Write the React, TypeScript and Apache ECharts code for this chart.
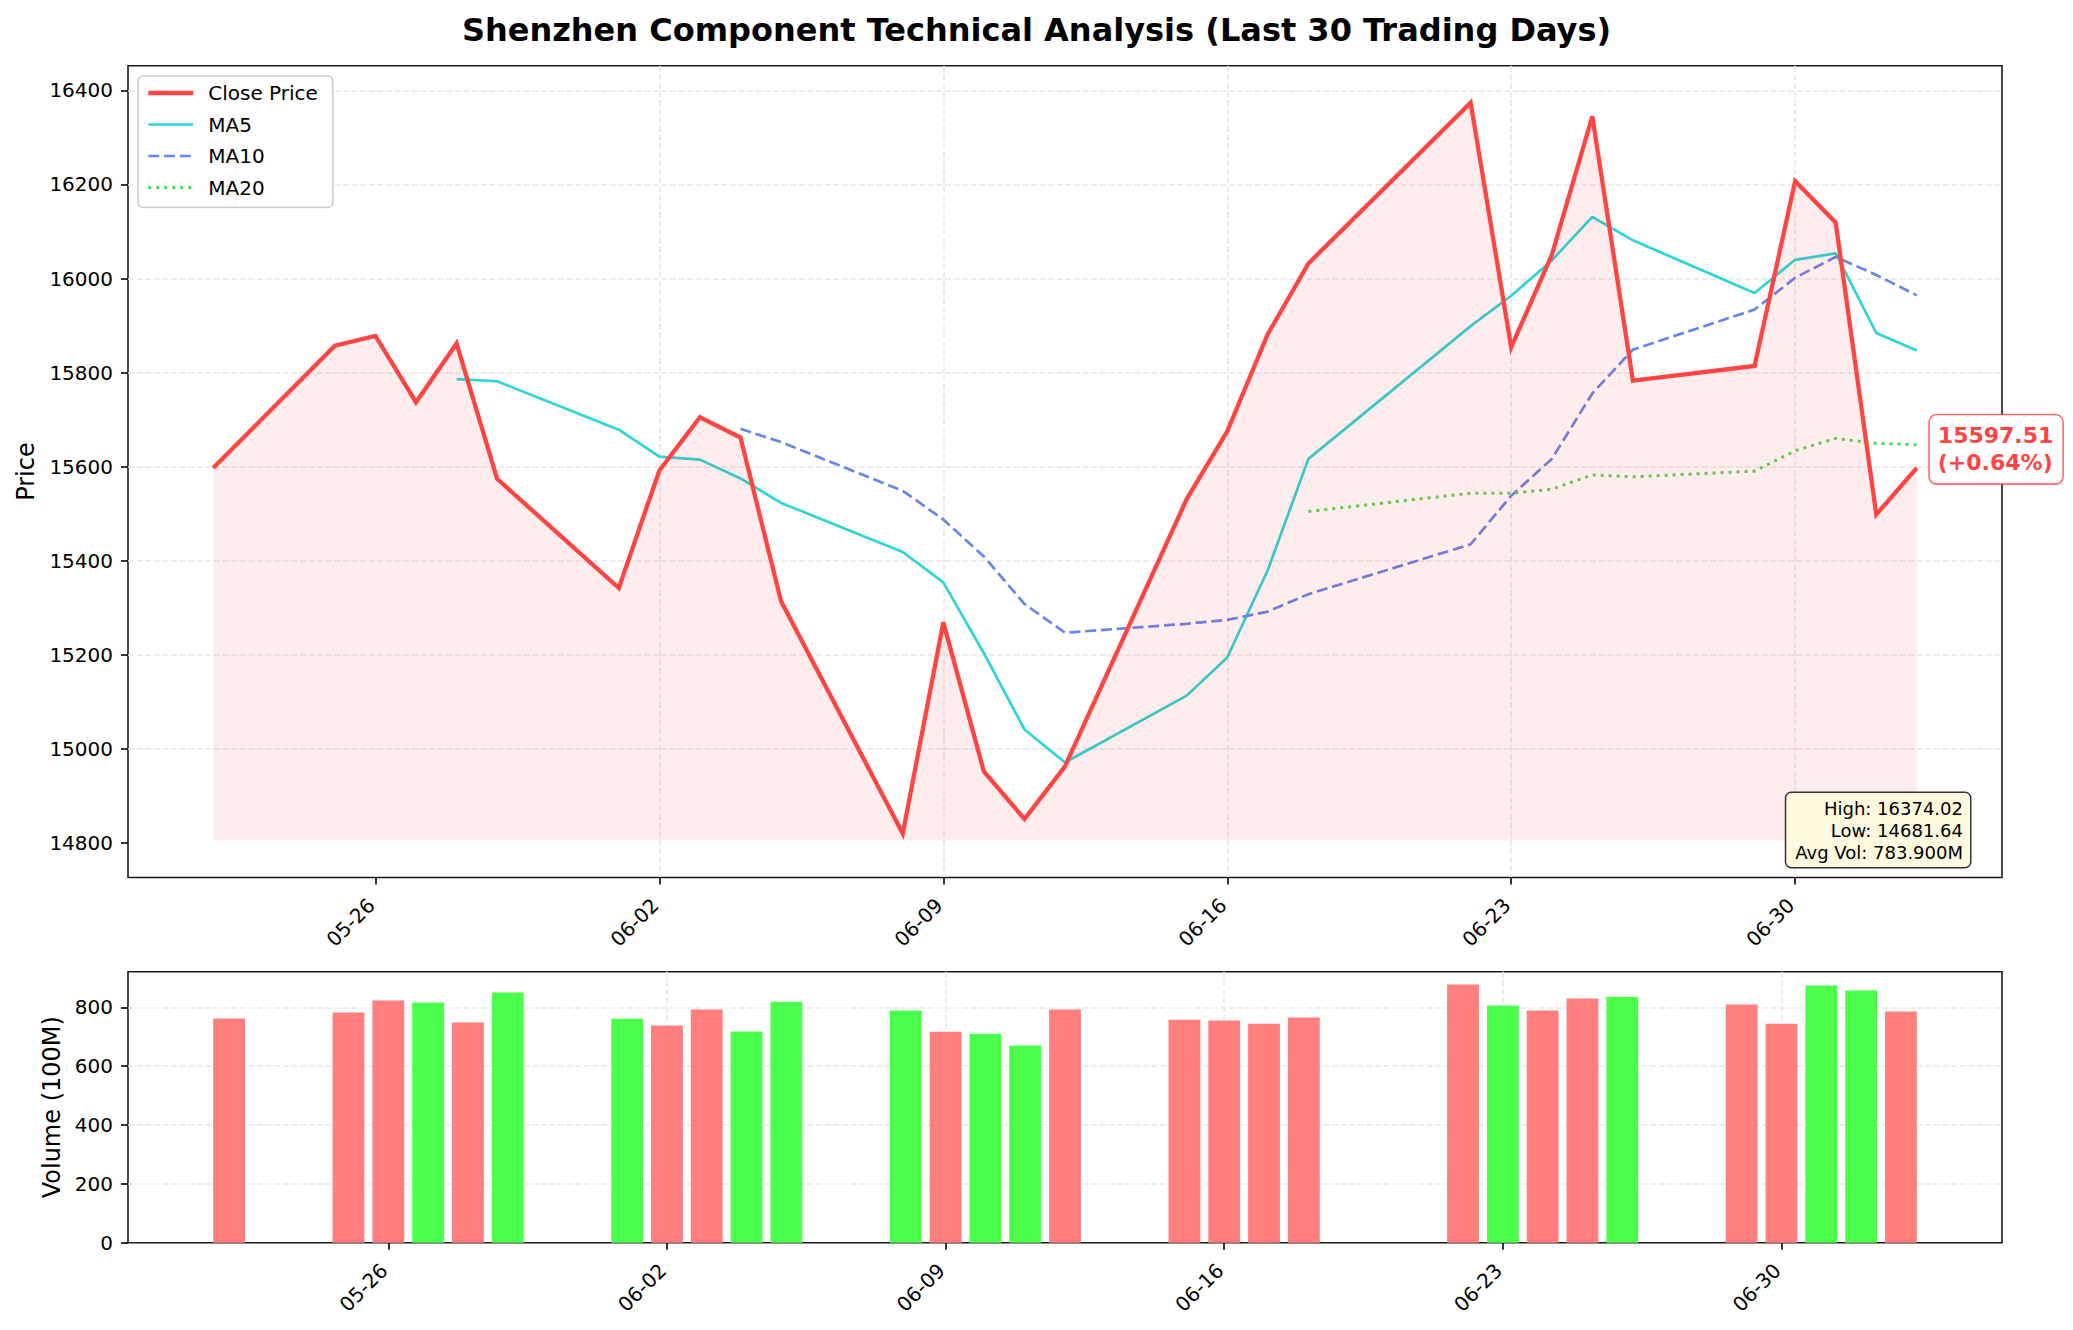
import React, { useEffect, useRef } from "react";
import * as echarts from "echarts";

const dates = [
  "2025-05-22", "2025-05-25", "2025-05-26", "2025-05-27", "2025-05-28", "2025-05-29",
  "2025-06-01", "2025-06-02", "2025-06-03", "2025-06-04", "2025-06-05",
  "2025-06-08", "2025-06-09", "2025-06-10", "2025-06-11", "2025-06-12",
  "2025-06-15", "2025-06-16", "2025-06-17", "2025-06-18",
  "2025-06-22", "2025-06-23", "2025-06-24", "2025-06-25", "2025-06-26",
  "2025-06-29", "2025-06-30", "2025-07-01", "2025-07-02", "2025-07-03",
];

const closePrices = [
  15597, 15857, 15878, 15737, 15862, 15574,
  15342, 15592, 15705, 15662, 15314,
  14820, 15269, 14952, 14851, 14963,
  15531, 15675, 15882, 16032,
  16374.02, 15854, 16050, 16345, 15783,
  15814, 16207, 16119, 15498.3, 15597.51,
];

const ma5 = [
  null, null, null, null, 15786.2, 15781.6,
  15678.6, 15621.4, 15615.0, 15575.0, 15523.0,
  15418.6, 15354.0, 15203.4, 15041.2, 14971.0,
  15113.2, 15194.4, 15380.4, 15616.6,
  15898.8, 15963.4, 16038.4, 16131.0, 16081.2,
  15969.2, 16039.8, 16053.6, 15884.2, 15847.1,
];

const ma10 = [
  null, null, null, null, null, null,
  null, null, null, 15680.6, 15652.3,
  15548.6, 15487.7, 15409.2, 15308.1, 15247.0,
  15265.9, 15274.2, 15291.9, 15328.9,
  15434.9, 15538.3, 15616.4, 15755.7, 15848.9,
  15934.0, 16001.6, 16046.0, 16007.6, 15964.2,
];

const ma20 = [
  null, null, null, null, null, null,
  null, null, null, null, null,
  null, null, null, null, null,
  null, null, null, 15504.8,
  15543.6, 15543.5, 15552.1, 15582.5, 15578.5,
  15590.5, 15633.8, 15660.1, 15649.8, 15646.6,
];

const volumes = [
  762, 782, 823, 816, 748, 850,
  761, 738, 792, 718, 819,
  789, 717, 710, 670, 792,
  758, 755, 744, 765,
  877, 806, 789, 830, 836,
  809, 744, 874, 857, 786,
];

const dateTicks = ["2025-05-26", "2025-06-02", "2025-06-09", "2025-06-16", "2025-06-23", "2025-06-30"];
const priceTicks = [14800, 15000, 15200, 15400, 15600, 15800, 16000, 16200, 16400];
const volumeTicks = [0, 200, 400, 600, 800];

const statHigh = 16374.02;
const statLow = 14681.64;
const fillBase = 14805;

const FONT = "'DejaVu Sans', sans-serif";
const DAY = 86400000;
const toTs = (s: string) => new Date(s + "T00:00:00Z").getTime();
const pad2 = (n: number) => (n < 10 ? "0" + n : "" + n);
const fmtDate = (v: number) => {
  const d = new Date(v);
  return pad2(d.getUTCMonth() + 1) + "-" + pad2(d.getUTCDate());
};

export default function App() {
  const ref = useRef<HTMLDivElement>(null);

  useEffect(() => {
    document.body.style.margin = "0";
    if (!ref.current) return;
    const chart = echarts.init(ref.current, null, { renderer: "svg" });

    const ts = dates.map(toTs);
    const t0 = ts[0];
    const tN = ts[ts.length - 1];

    const gridLeft = 128;
    const gridWidth = 1874;
    const topGrid = { left: gridLeft, top: 65.7, width: gridWidth, height: 811.8 };
    const botGrid = { left: gridLeft, top: 971.7, width: gridWidth, height: 271 };

    const span1 = tN - t0;
    const x1Min = t0 - 0.05 * span1;
    const x1Max = tN + 0.05 * span1;
    const span2 = tN - t0 + 0.8 * DAY;
    const x2Min = t0 - 0.4 * DAY - 0.05 * span2;
    const x2Max = tN + 0.4 * DAY + 0.05 * span2;

    const hi = Math.max(...closePrices);
    const yRange = hi - fillBase;
    const y1Min = fillBase - 0.05 * yRange;
    const y1Max = hi + 0.05 * yRange;
    const y2Max = Math.max(...volumes) * 1.05;

    const barWidth = (0.8 * DAY * gridWidth) / (x2Max - x2Min);

    const last = closePrices[closePrices.length - 1];
    const prev = closePrices[closePrices.length - 2];
    const pct = (last / prev - 1) * 100;
    const avgVol = volumes.reduce((a, b) => a + b, 0) / volumes.length;

    const tickTs = dateTicks.map(toTs);

    const gridLine = { show: true, showMinLine: false, lineStyle: { color: "#e7e7e7", width: 1.6, type: [6, 2.6] } };
    const tick = { show: true, length: 7, lineStyle: { color: "#000", width: 1.6 } };

    const xAxisCommon = (idx: number) => ({
      type: "value",
      gridIndex: idx,
      min: idx === 0 ? x1Min : x2Min,
      max: idx === 0 ? x1Max : x2Max,
      axisLine: { show: false },
      axisTick: { ...tick, customValues: tickTs },
      axisLabel: {
        customValues: tickTs,
        formatter: (v: number) => fmtDate(v),
        rotate: 45,
        margin: 20,
        padding: [0, 6, 11, 0],
        fontSize: 20,
        fontFamily: FONT,
        color: "#000",
      },
      splitLine: gridLine,
    });

    const maData = (arr: (number | null)[]) =>
      arr.map((v, i) => (v == null ? null : [ts[i], v])).filter((d) => d !== null);

    const option: any = {
      animation: false,
      textStyle: { fontFamily: FONT },
      title: {
        text: "Shenzhen Component Technical Analysis (Last 30 Trading Days)",
        left: "center",
        top: 14,
        padding: 0,
        textStyle: { fontSize: 32, fontWeight: "bold", fontFamily: FONT, color: "#000" },
      },
      legend: {
        data: [
          { name: "Close Price", lineStyle: { width: 4.5 } },
          { name: "MA5", lineStyle: { width: 2.7 } },
          { name: "MA10", lineStyle: { width: 2.7 } },
          { name: "MA20", lineStyle: { width: 3 } },
        ],
        orient: "vertical",
        left: 138,
        top: 76,
        itemWidth: 45,
        itemHeight: 14,
        itemGap: 11.5,
        padding: [7, 15, 10, 8],
        backgroundColor: "rgba(255,255,255,0.8)",
        borderColor: "#cccccc",
        borderWidth: 1.6,
        borderRadius: 5,
        itemStyle: { opacity: 0 },
        textStyle: { fontSize: 20, fontFamily: FONT, color: "#000", padding: [0, 0, 0, 10] },
      },
      grid: [
        { ...topGrid, show: true, borderColor: "#1a1a1a", borderWidth: 1.6, backgroundColor: "transparent", outerBoundsMode: "none" },
        { ...botGrid, show: true, borderColor: "#1a1a1a", borderWidth: 1.6, backgroundColor: "transparent", outerBoundsMode: "none" },
      ],
      xAxis: [xAxisCommon(0), xAxisCommon(1)],
      yAxis: [
        {
          type: "value",
          gridIndex: 0,
          min: y1Min,
          max: y1Max,
          name: "Price",
          nameLocation: "middle",
          nameGap: 84.5,
          nameTextStyle: { fontSize: 24, fontFamily: FONT, color: "#000" },
          axisLine: { show: false },
          axisTick: { ...tick, customValues: priceTicks },
          axisLabel: {
            customValues: priceTicks,
            formatter: (v: number) => String(Math.round(v)),
            margin: 15,
            fontSize: 20,
            fontFamily: FONT,
            color: "#000",
          },
          splitLine: gridLine,
        },
        {
          type: "value",
          gridIndex: 1,
          min: 0,
          max: y2Max,
          name: "Volume (100M)",
          nameLocation: "middle",
          nameGap: 61,
          nameTextStyle: { fontSize: 24, fontFamily: FONT, color: "#000" },
          axisLine: { show: false },
          axisTick: { ...tick, customValues: volumeTicks },
          axisLabel: {
            customValues: volumeTicks,
            formatter: (v: number) => String(Math.round(v)),
            margin: 15,
            fontSize: 20,
            fontFamily: FONT,
            color: "#000",
          },
          splitLine: gridLine,
        },
      ],
      series: [
        {
          name: "Close Price",
          type: "line",
          xAxisIndex: 0,
          yAxisIndex: 0,
          data: ts.map((t, i) => [t, closePrices[i]]),
          symbol: "none",
          z: 5,
          lineStyle: { color: "#ff4444", width: 4.3, join: "miter" },
          itemStyle: { color: "#ff4444" },
          areaStyle: { color: "rgba(255,0,0,0.1)", origin: fillBase },
          markPoint: {
            symbol: "circle",
            symbolSize: 2,
            itemStyle: { color: "transparent" },
            data: [{ coord: [tN, last] }],
            label: {
              show: true,
              position: "right",
              distance: 0,
              offset: [12, -18.5],
              formatter: `${last.toFixed(2)}\n(${pct >= 0 ? "+" : ""}${pct.toFixed(2)}%)`,
              fontFamily: FONT,
              fontSize: 22,
              fontWeight: "bold",
              color: "#ff4444",
              lineHeight: 27,
              backgroundColor: "#ffffff",
              borderColor: "rgba(255,68,68,0.8)",
              borderWidth: 1.6,
              borderRadius: 7,
              padding: [7, 9, 7, 8],
            },
          },
        },
        {
          name: "MA5",
          type: "line",
          xAxisIndex: 0,
          yAxisIndex: 0,
          data: maData(ma5),
          symbol: "none",
          z: 4,
          lineStyle: { color: "#2fd4d6", width: 2.7 },
          itemStyle: { color: "#2fd4d6" },
        },
        {
          name: "MA10",
          type: "line",
          xAxisIndex: 0,
          yAxisIndex: 0,
          data: maData(ma10),
          symbol: "none",
          z: 4,
          lineStyle: { color: "#6787e7", width: 2.7, type: [11, 4.8] },
          itemStyle: { color: "#6787e7" },
        },
        {
          name: "MA20",
          type: "line",
          xAxisIndex: 0,
          yAxisIndex: 0,
          data: maData(ma20),
          symbol: "none",
          z: 4,
          lineStyle: { color: "#55d655", width: 3, type: [3, 5] },
          itemStyle: { color: "#55d655" },
        },
        {
          name: "Volume",
          type: "bar",
          xAxisIndex: 1,
          yAxisIndex: 1,
          barWidth,
          data: ts.map((t, i) => ({
            value: [t, volumes[i]],
            itemStyle: { color: i === 0 || closePrices[i] >= closePrices[i - 1] ? "#ff7f7f" : "#4dff4d" },
          })),
        },
      ],
      graphic: [
        {
          type: "text",
          x: 1970,
          y: 867,
          z: 100,
          style: {
            text: `High: ${statHigh.toFixed(2)}\nLow: ${statLow.toFixed(2)}\nAvg Vol: ${avgVol.toFixed(3)}M`,
            fontFamily: FONT,
            fontSize: 18,
            lineHeight: 22,
            fill: "#000",
            align: "right",
            verticalAlign: "bottom",
            backgroundColor: "#fffadf",
            borderColor: "#333333",
            borderWidth: 1.5,
            borderRadius: 5,
            padding: [4, 7, 4, 9],
          },
        },
      ],
    };

    chart.setOption(option);
    return () => chart.dispose();
  }, []);

  return <div ref={ref} style={{ width: 2073, height: 1330 }} />;
}
